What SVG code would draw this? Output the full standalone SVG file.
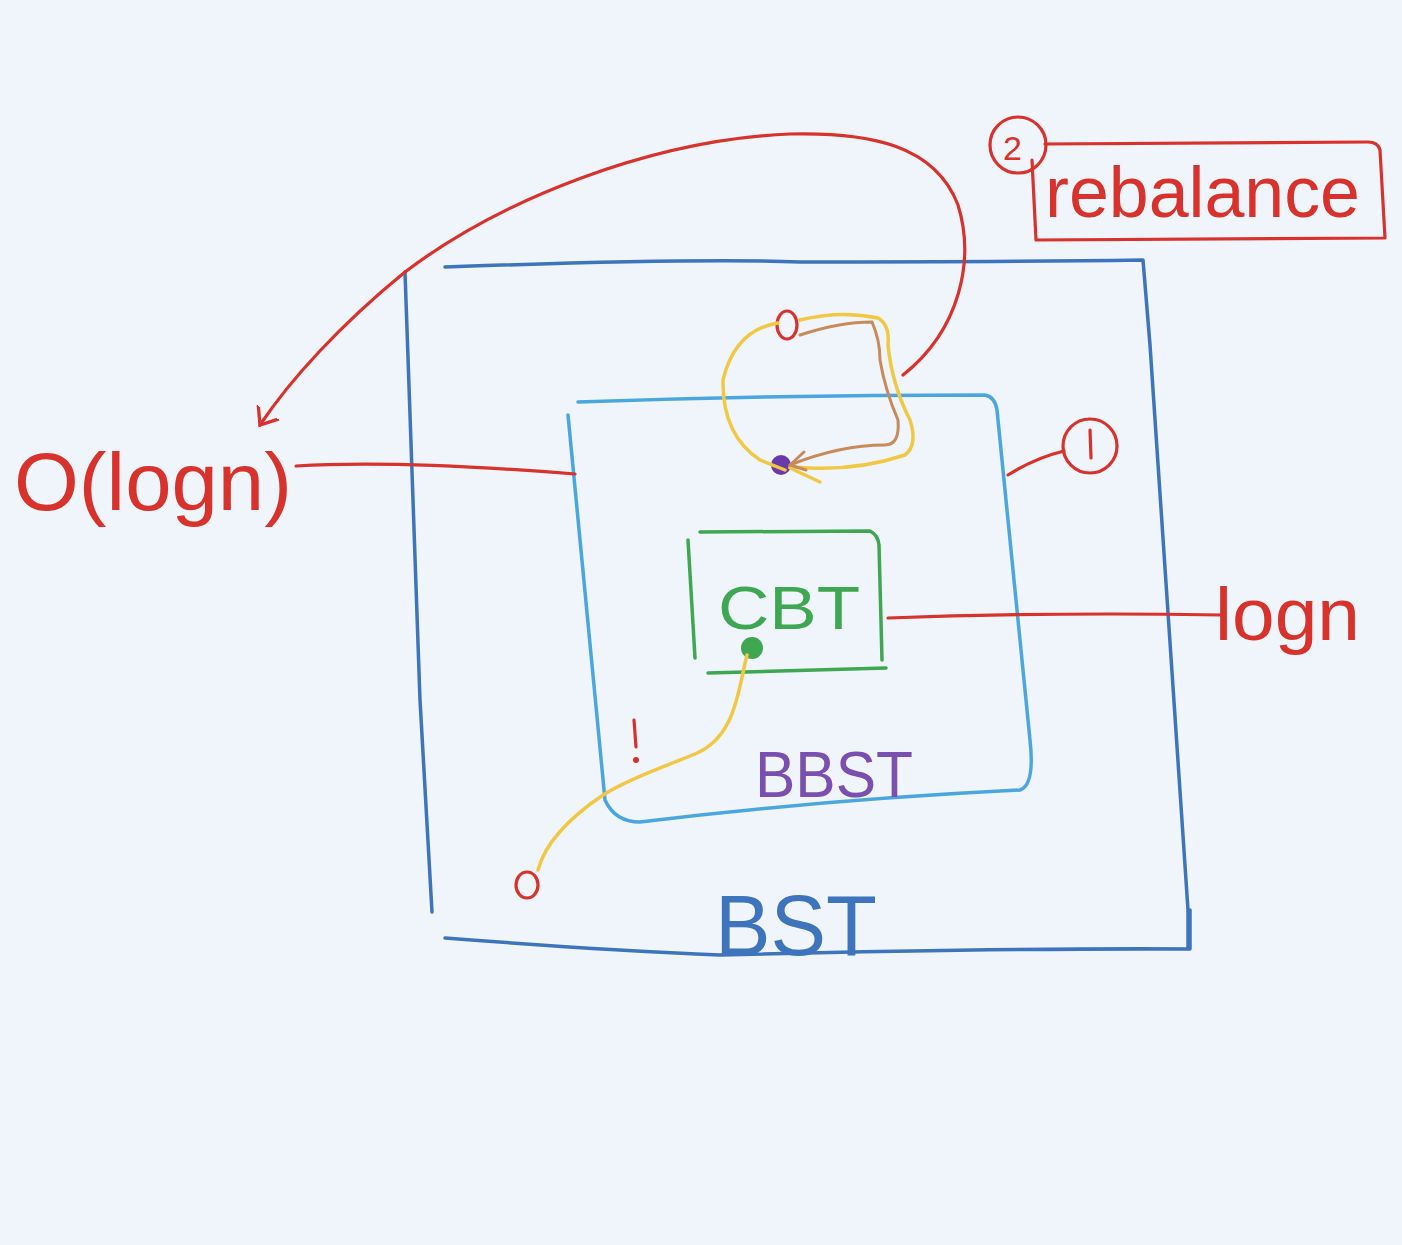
<svg xmlns="http://www.w3.org/2000/svg" width="1402" height="1245" viewBox="0 0 1402 1245">
<defs>
<style>
.ln{fill:none;stroke-linecap:round;stroke-linejoin:round}
.red{stroke:#d8322c;stroke-width:3.2}
.dblue{stroke:#3d74bb;stroke-width:3.5}
.lblue{stroke:#4aa6de;stroke-width:3.5}
.green{stroke:#3fa752;stroke-width:3.5}
.yel{stroke:#f1c844;stroke-width:3.5}
.brn{stroke:#c98a5a;stroke-width:3}
.t{font-family:"Liberation Sans","DejaVu Sans",sans-serif;font-weight:normal}
</style>
<marker id="arr" viewBox="0 0 20 20" refX="10" refY="10" markerWidth="30" markerHeight="30" orient="auto" markerUnits="userSpaceOnUse">
<path d="M0,2 L10,10 L0,18" fill="none" stroke="#d8322c" stroke-width="2.2" stroke-linecap="round"/>
</marker>
</defs>
<rect width="1402" height="1245" fill="#f0f4fb"/>

<g id="bst">
<path class="ln dblue" d="M445,267 Q700,258 800,262 Q1000,262 1143,260 L1150,345 L1188,910 L1188,948"/>
<path class="ln dblue" d="M405,272 L420,700 L432,912"/>
<path class="ln dblue" d="M445,938 Q600,950 720,955 Q1000,948 1190,949 L1190,910"/>
<text class="t" x="715" y="955" font-size="86" fill="#3d74bb" textLength="162" lengthAdjust="spacingAndGlyphs">BST</text>
</g>

<g id="bbst">
<path class="ln lblue" d="M578,402 Q780,395 985,395 Q995,397 997,410 L1030,740 Q1035,785 1020,790 Q820,800 640,822 Q615,822 605,800 L568,415"/>
<text class="t" x="755" y="797" font-size="64" fill="#7b4fb0" textLength="158" lengthAdjust="spacingAndGlyphs">BBST</text>
</g>

<g id="cbt">
<path class="ln green" d="M700,532 L870,531 Q878,535 879,545 L882,660"/>
<path class="ln green" d="M688,540 L695,658"/>
<path class="ln green" d="M708,673 L886,668"/>
<text class="t" x="718" y="629" font-size="62" fill="#3fa752" textLength="142" lengthAdjust="spacingAndGlyphs">CBT</text>
<circle cx="752" cy="648" r="11" fill="#3fa752"/>
</g>

<g id="rebalance">
<circle cx="1018" cy="145" r="28" class="ln red"/>
<text class="t" x="1003" y="160" font-size="34" fill="#d8322c">2</text>
<path class="ln red" d="M1032,160 L1036,240 L1385,238 L1380,150 Q1378,142 1368,142 L1045,144"/>
<text class="t" x="1045" y="217" font-size="72" fill="#d8322c" textLength="315" lengthAdjust="spacingAndGlyphs">rebalance</text>
</g>

<g id="step1">
<circle cx="1090" cy="446" r="27" class="ln red"/>
<path class="ln red" d="M1090,430 L1091,458" stroke-width="2.8"/>
</g>

<g id="ologn">
<text class="t" x="14" y="510" font-size="82" fill="#d8322c" textLength="278" lengthAdjust="spacingAndGlyphs">O(logn)</text>
</g>

<g id="logn">
<text class="t" x="1215" y="640" font-size="74" fill="#d8322c" textLength="145" lengthAdjust="spacingAndGlyphs">logn</text>
</g>

<g id="marks">
<ellipse cx="787" cy="325" rx="10" ry="14" class="ln red" stroke-width="4.5"/>
<circle cx="781" cy="465" r="10" fill="#6a3aa8"/>
<ellipse cx="527" cy="885" rx="11" ry="13" class="ln red"/>
<path class="ln red" d="M634,720 L636,747" stroke-width="4"/>
<circle cx="636" cy="760" r="3" fill="#d8322c"/>
</g>

<g id="connectors">
<path class="ln red" d="M296,466 Q400,460 575,474"/>
<path class="ln red" d="M888,618 Q1050,612 1222,615"/>
<path class="ln red" d="M1008,475 Q1035,458 1064,451"/>
<path class="ln red" marker-end="url(#arr)" d="M903,375 C960,330 975,260 958,205 C935,145 870,132 790,134 C650,140 500,200 405,272 C340,325 290,380 260,425"/>
<path class="ln yel" d="M747,655 C738,690 736,737 695,754 C660,768 625,781 603,795 C572,816 546,840 538,870"/>
<path class="ln yel" d="M778,323 Q735,330 723,380 Q722,435 760,460 L785,470"/>
<path class="ln yel" d="M800,320 Q840,310 878,318 Q890,325 888,345 Q892,385 910,420 Q918,445 905,455 Q860,470 810,468 L790,467"/>
<path class="ln yel" d="M790,468 L820,482"/>
<path class="ln brn" d="M800,335 Q840,322 872,322 Q880,340 880,360 Q885,390 898,420 Q900,445 885,445 Q840,445 790,465"/>
<path class="ln brn" d="M790,465 L804,452 M790,465 L806,470"/>
</g>
</svg>
